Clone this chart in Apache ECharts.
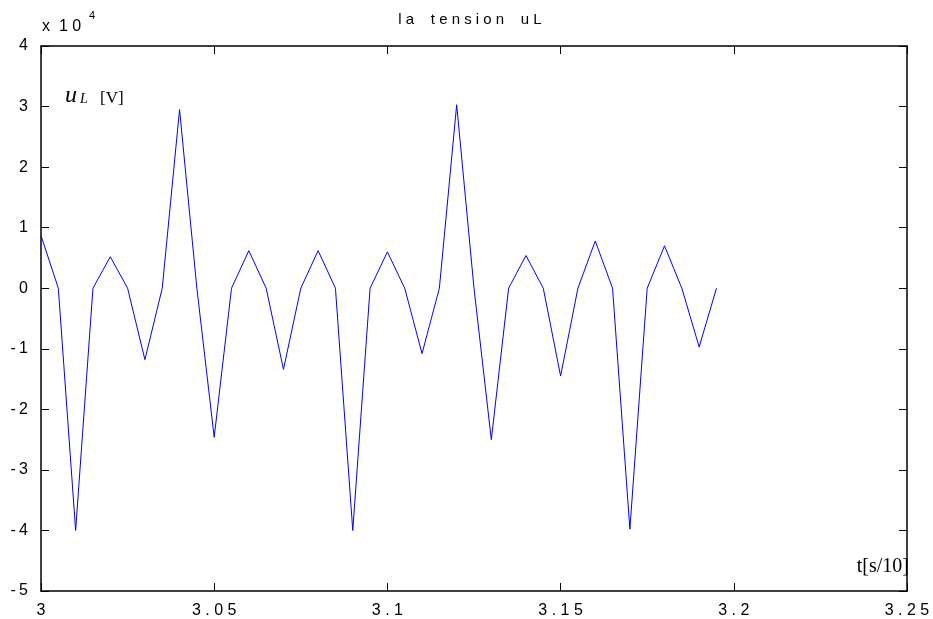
<!DOCTYPE html>
<html>
<head>
<meta charset="utf-8">
<script src="https://cdn.jsdelivr.net/npm/echarts@6/dist/echarts.min.js"></script>
<style>
  html, body { margin: 0; padding: 0; background: #fff; }
  #chart { width: 933px; height: 619px; }
</style>
</head>
<body>
<div id="chart"></div>
<script>
// Sample times (t in s/10) and inductor voltage uL in volts
const times = [
  3.000, 3.005, 3.010, 3.015, 3.020, 3.025, 3.030, 3.035, 3.040, 3.045,
  3.050, 3.055, 3.060, 3.065, 3.070, 3.075, 3.080, 3.085, 3.090, 3.095,
  3.100, 3.105, 3.110, 3.115, 3.120, 3.125, 3.130, 3.135, 3.140, 3.145,
  3.150, 3.155, 3.160, 3.165, 3.170, 3.175, 3.180, 3.185, 3.190, 3.195
];
const uL = [
   8700,      0, -40000,      0,   5200,      0, -11800,      0,  29500,      0,
 -24600,      0,   6200,      0, -13400,      0,   6200,      0, -40000,      0,
   6000,      0, -10800,      0,  30300,      0, -25000,      0,   5400,      0,
 -14500,      0,   7800,      0, -39800,      0,   7000,      0,  -9700,      0
];

// Axis ranges and tick steps
const xMin = 3.0, xMax = 3.25, xStep = 0.05;
const yMin = -50000, yMax = 40000, yStep = 10000;
const yScale = 1e4;

const titleText = 'la tension uL';
const xLabel = 't[s/10]';

const SANS = '"Liberation Sans", Arial, sans-serif';
const SERIF = '"Liberation Serif", "Times New Roman", serif';

// Wide letter spacing, as in MATLAB-exported text
const spaced = s => s.split('').map(c => c === ' ' ? '  ' : c).join(' ')
  .replace('- ', '-\u2009');

const points = times.map((t, i) => [t, uL[i]]);

const axisLine = { show: true, onZero: false, lineStyle: { color: '#000', width: 1.5 } };
const tickIn = { show: true, inside: true, length: 8, lineStyle: { color: '#000', width: 1 } };
const labelFont = { color: '#000', fontFamily: SANS, fontSize: 16 };

const fmtX = v => spaced(String(parseFloat(v.toFixed(2))));
const fmtY = v => spaced(String(Math.round(v / yScale)));

const chart = echarts.init(document.getElementById('chart'), null, { renderer: 'canvas' });
chart.setOption({
  animation: false,
  backgroundColor: '#fff',
  grid: { left: 41, right: 26, top: 46, bottom: 28, containLabel: false },
  xAxis: [
    {
      type: 'value', min: xMin, max: xMax, interval: xStep, position: 'bottom',
      axisLine, axisTick: tickIn, splitLine: { show: false },
      axisLabel: Object.assign({ margin: 12, formatter: fmtX }, labelFont)
    },
    {
      type: 'value', min: xMin, max: xMax, interval: xStep, position: 'top',
      axisLine, axisTick: tickIn, splitLine: { show: false }, axisLabel: { show: false }
    }
  ],
  yAxis: [
    {
      type: 'value', min: yMin, max: yMax, interval: yStep, position: 'left',
      axisLine, axisTick: tickIn, splitLine: { show: false },
      axisLabel: Object.assign({ margin: 13, formatter: fmtY }, labelFont)
    },
    {
      type: 'value', min: yMin, max: yMax, interval: yStep, position: 'right',
      axisLine, axisTick: tickIn, splitLine: { show: false }, axisLabel: { show: false }
    }
  ],
  series: [{
    type: 'line',
    xAxisIndex: 0, yAxisIndex: 0,
    data: points,
    showSymbol: false,
    lineStyle: { color: '#0000ff', width: 1 },
    z: 1
  }],
  graphic: [
    // title
    { type: 'text', x: 470, y: 20, style: {
        text: spaced(titleText), align: 'center', verticalAlign: 'middle',
        fontFamily: SANS, fontSize: 15, fill: '#000' } },
    // exponent factor "x 10^4"
    { type: 'text', x: 42, y: 27, style: {
        text: 'x  1 0', align: 'left', verticalAlign: 'middle',
        fontFamily: SANS, fontSize: 16, fill: '#000' } },
    { type: 'text', x: 89, y: 16, style: {
        text: '4', align: 'left', verticalAlign: 'middle',
        fontFamily: SANS, fontSize: 11, fill: '#000' } },
    // y quantity label: uL [V]
    { type: 'text', x: 65, y: 96, style: {
        text: 'u', align: 'left', verticalAlign: 'middle',
        fontFamily: SERIF, fontStyle: 'italic', fontSize: 24, fill: '#000' } },
    { type: 'text', x: 80, y: 99, style: {
        text: 'L', align: 'left', verticalAlign: 'middle',
        fontFamily: SERIF, fontStyle: 'italic', fontSize: 14, fill: '#000' } },
    { type: 'text', x: 100, y: 99, style: {
        text: '[V]', align: 'left', verticalAlign: 'middle',
        fontFamily: SERIF, fontSize: 17, fill: '#000' } },
    // x quantity label
    { type: 'text', x: 909, y: 567, style: {
        text: xLabel, align: 'right', verticalAlign: 'middle',
        fontFamily: SERIF, fontSize: 20, fill: '#000' } }
  ]
});
</script>
</body>
</html>
